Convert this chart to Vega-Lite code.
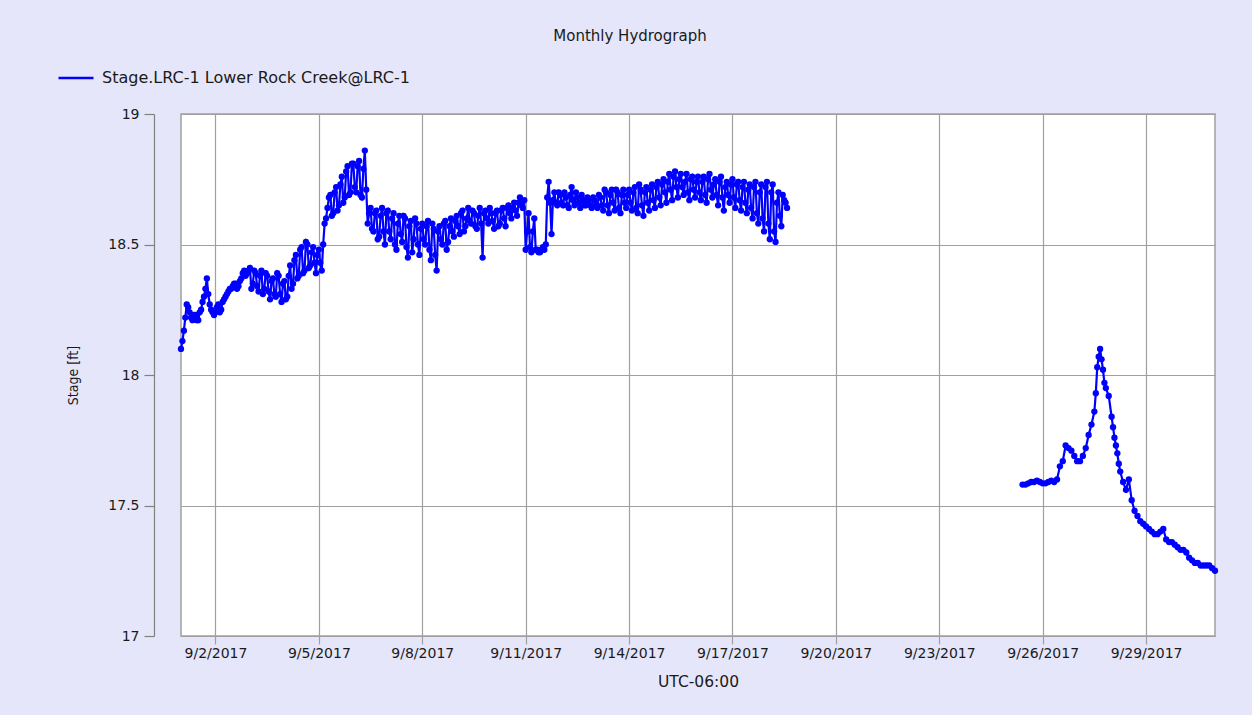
{
"$schema": "https://vega.github.io/schema/vega-lite/v6.json",
"width": 1034, "height": 522,
"autosize": {"type": "none"},
"padding": {"left": 181, "top": 114, "right": 37, "bottom": 79},
"background": "#E6E6FA",
"title": {"text": "Monthly Hydrograph", "anchor": "middle", "frame": "group", "dx": -68, "fontSize": 15, "font": "DejaVu Sans", "fontWeight": "normal", "color": "#1a1a1a", "offset": 15},
"config": {"view": {"stroke": "#a0a0a0", "strokeWidth": 1.5, "fill": "white"}, "font": "DejaVu Sans"},
"data": {"values": [
{"t":"2017-09-01T00:00","v":18.10,"s":1},{"t":"2017-09-01T02:00","v":18.17,"s":1},{"t":"2017-09-01T04:00","v":18.27,"s":1},{"t":"2017-09-01T06:00","v":18.24,"s":1},{"t":"2017-09-01T08:00","v":18.21,"s":1},{"t":"2017-09-01T10:00","v":18.23,"s":1},{"t":"2017-09-01T12:00","v":18.21,"s":1},{"t":"2017-09-01T14:00","v":18.25,"s":1},{"t":"2017-09-01T16:00","v":18.30,"s":1},{"t":"2017-09-01T18:00","v":18.37,"s":1},{"t":"2017-09-01T20:00","v":18.27,"s":1},{"t":"2017-09-01T22:00","v":18.24,"s":1},
{"t":"2017-09-02T00:00","v":18.24,"s":1},{"t":"2017-09-02T02:00","v":18.27,"s":1},{"t":"2017-09-02T04:00","v":18.25,"s":1},{"t":"2017-09-02T06:00","v":18.29,"s":1},{"t":"2017-09-02T08:00","v":18.31,"s":1},{"t":"2017-09-02T10:00","v":18.33,"s":1},{"t":"2017-09-02T12:00","v":18.34,"s":1},{"t":"2017-09-02T14:00","v":18.35,"s":1},{"t":"2017-09-02T16:00","v":18.34,"s":1},{"t":"2017-09-02T18:00","v":18.37,"s":1},{"t":"2017-09-02T20:00","v":18.40,"s":1},{"t":"2017-09-02T22:00","v":18.39,"s":1},
{"t":"2017-09-03T00:00","v":18.41,"s":1},{"t":"2017-09-03T02:00","v":18.35,"s":1},{"t":"2017-09-03T04:00","v":18.39,"s":1},{"t":"2017-09-03T06:00","v":18.32,"s":1},{"t":"2017-09-03T08:00","v":18.40,"s":1},{"t":"2017-09-03T10:00","v":18.33,"s":1},{"t":"2017-09-03T12:00","v":18.38,"s":1},{"t":"2017-09-03T14:00","v":18.29,"s":1},{"t":"2017-09-03T16:00","v":18.37,"s":1},{"t":"2017-09-03T18:00","v":18.30,"s":1},{"t":"2017-09-03T20:00","v":18.38,"s":1},{"t":"2017-09-03T22:00","v":18.28,"s":1},
{"t":"2017-09-04T00:00","v":18.36,"s":1},{"t":"2017-09-04T02:00","v":18.30,"s":1},{"t":"2017-09-04T04:00","v":18.42,"s":1},{"t":"2017-09-04T06:00","v":18.35,"s":1},{"t":"2017-09-04T08:00","v":18.46,"s":1},{"t":"2017-09-04T10:00","v":18.38,"s":1},{"t":"2017-09-04T12:00","v":18.49,"s":1},{"t":"2017-09-04T14:00","v":18.40,"s":1},{"t":"2017-09-04T16:00","v":18.50,"s":1},{"t":"2017-09-04T18:00","v":18.42,"s":1},{"t":"2017-09-04T20:00","v":18.49,"s":1},{"t":"2017-09-04T22:00","v":18.39,"s":1},
{"t":"2017-09-05T00:00","v":18.48,"s":1},{"t":"2017-09-05T02:00","v":18.40,"s":1},{"t":"2017-09-05T04:00","v":18.58,"s":1},{"t":"2017-09-05T06:00","v":18.64,"s":1},{"t":"2017-09-05T08:00","v":18.69,"s":1},{"t":"2017-09-05T10:00","v":18.62,"s":1},{"t":"2017-09-05T12:00","v":18.72,"s":1},{"t":"2017-09-05T14:00","v":18.65,"s":1},{"t":"2017-09-05T16:00","v":18.76,"s":1},{"t":"2017-09-05T18:00","v":18.68,"s":1},{"t":"2017-09-05T20:00","v":18.80,"s":1},{"t":"2017-09-05T22:00","v":18.70,"s":1},
{"t":"2017-09-06T00:00","v":18.81,"s":1},{"t":"2017-09-06T02:00","v":18.70,"s":1},{"t":"2017-09-06T04:00","v":18.82,"s":1},{"t":"2017-09-06T06:00","v":18.68,"s":1},{"t":"2017-09-06T08:00","v":18.86,"s":1},{"t":"2017-09-06T10:00","v":18.58,"s":1},{"t":"2017-09-06T12:00","v":18.64,"s":1},{"t":"2017-09-06T14:00","v":18.55,"s":1},{"t":"2017-09-06T16:00","v":18.63,"s":1},{"t":"2017-09-06T18:00","v":18.53,"s":1},{"t":"2017-09-06T20:00","v":18.64,"s":1},{"t":"2017-09-06T22:00","v":18.50,"s":1},
{"t":"2017-09-07T00:00","v":18.63,"s":1},{"t":"2017-09-07T02:00","v":18.52,"s":1},{"t":"2017-09-07T04:00","v":18.62,"s":1},{"t":"2017-09-07T06:00","v":18.48,"s":1},{"t":"2017-09-07T08:00","v":18.61,"s":1},{"t":"2017-09-07T10:00","v":18.51,"s":1},{"t":"2017-09-07T12:00","v":18.60,"s":1},{"t":"2017-09-07T14:00","v":18.45,"s":1},{"t":"2017-09-07T16:00","v":18.59,"s":1},{"t":"2017-09-07T18:00","v":18.52,"s":1},{"t":"2017-09-07T20:00","v":18.58,"s":1},{"t":"2017-09-07T22:00","v":18.46,"s":1},
{"t":"2017-09-08T00:00","v":18.58,"s":1},{"t":"2017-09-08T02:00","v":18.50,"s":1},{"t":"2017-09-08T04:00","v":18.59,"s":1},{"t":"2017-09-08T06:00","v":18.44,"s":1},{"t":"2017-09-08T08:00","v":18.56,"s":1},{"t":"2017-09-08T10:00","v":18.40,"s":1},{"t":"2017-09-08T12:00","v":18.57,"s":1},{"t":"2017-09-08T14:00","v":18.50,"s":1},{"t":"2017-09-08T16:00","v":18.59,"s":1},{"t":"2017-09-08T18:00","v":18.51,"s":1},{"t":"2017-09-08T20:00","v":18.60,"s":1},{"t":"2017-09-08T22:00","v":18.53,"s":1},
{"t":"2017-09-09T00:00","v":18.61,"s":1},{"t":"2017-09-09T02:00","v":18.54,"s":1},{"t":"2017-09-09T04:00","v":18.63,"s":1},{"t":"2017-09-09T06:00","v":18.57,"s":1},{"t":"2017-09-09T08:00","v":18.64,"s":1},{"t":"2017-09-09T10:00","v":18.58,"s":1},{"t":"2017-09-09T12:00","v":18.62,"s":1},{"t":"2017-09-09T14:00","v":18.56,"s":1},{"t":"2017-09-09T16:00","v":18.64,"s":1},{"t":"2017-09-09T18:00","v":18.45,"s":1},{"t":"2017-09-09T20:00","v":18.63,"s":1},{"t":"2017-09-09T22:00","v":18.58,"s":1},
{"t":"2017-09-10T00:00","v":18.62,"s":1},{"t":"2017-09-10T02:00","v":18.56,"s":1},{"t":"2017-09-10T04:00","v":18.63,"s":1},{"t":"2017-09-10T06:00","v":18.58,"s":1},{"t":"2017-09-10T08:00","v":18.64,"s":1},{"t":"2017-09-10T10:00","v":18.57,"s":1},{"t":"2017-09-10T12:00","v":18.65,"s":1},{"t":"2017-09-10T14:00","v":18.60,"s":1},{"t":"2017-09-10T16:00","v":18.66,"s":1},{"t":"2017-09-10T18:00","v":18.61,"s":1},{"t":"2017-09-10T20:00","v":18.68,"s":1},{"t":"2017-09-10T22:00","v":18.64,"s":1},
{"t":"2017-09-11T00:00","v":18.48,"s":1},{"t":"2017-09-11T02:00","v":18.62,"s":1},{"t":"2017-09-11T04:00","v":18.47,"s":1},{"t":"2017-09-11T06:00","v":18.60,"s":1},{"t":"2017-09-11T08:00","v":18.48,"s":1},{"t":"2017-09-11T10:00","v":18.47,"s":1},{"t":"2017-09-11T12:00","v":18.49,"s":1},{"t":"2017-09-11T14:00","v":18.50,"s":1},{"t":"2017-09-11T16:00","v":18.74,"s":1},{"t":"2017-09-11T18:00","v":18.54,"s":1},{"t":"2017-09-11T20:00","v":18.70,"s":1},{"t":"2017-09-11T22:00","v":18.65,"s":1},
{"t":"2017-09-12T00:00","v":18.69,"s":1},{"t":"2017-09-12T02:00","v":18.65,"s":1},{"t":"2017-09-12T04:00","v":18.68,"s":1},{"t":"2017-09-12T06:00","v":18.64,"s":1},{"t":"2017-09-12T08:00","v":18.72,"s":1},{"t":"2017-09-12T10:00","v":18.65,"s":1},{"t":"2017-09-12T12:00","v":18.68,"s":1},{"t":"2017-09-12T14:00","v":18.64,"s":1},{"t":"2017-09-12T16:00","v":18.67,"s":1},{"t":"2017-09-12T18:00","v":18.65,"s":1},{"t":"2017-09-12T20:00","v":18.67,"s":1},{"t":"2017-09-12T22:00","v":18.64,"s":1},
{"t":"2017-09-13T00:00","v":18.67,"s":1},{"t":"2017-09-13T02:00","v":18.64,"s":1},{"t":"2017-09-13T04:00","v":18.68,"s":1},{"t":"2017-09-13T06:00","v":18.63,"s":1},{"t":"2017-09-13T08:00","v":18.70,"s":1},{"t":"2017-09-13T10:00","v":18.62,"s":1},{"t":"2017-09-13T12:00","v":18.71,"s":1},{"t":"2017-09-13T14:00","v":18.63,"s":1},{"t":"2017-09-13T16:00","v":18.70,"s":1},{"t":"2017-09-13T18:00","v":18.62,"s":1},{"t":"2017-09-13T20:00","v":18.71,"s":1},{"t":"2017-09-13T22:00","v":18.64,"s":1},
{"t":"2017-09-14T00:00","v":18.71,"s":1},{"t":"2017-09-14T02:00","v":18.63,"s":1},{"t":"2017-09-14T04:00","v":18.72,"s":1},{"t":"2017-09-14T06:00","v":18.62,"s":1},{"t":"2017-09-14T08:00","v":18.71,"s":1},{"t":"2017-09-14T10:00","v":18.61,"s":1},{"t":"2017-09-14T12:00","v":18.72,"s":1},{"t":"2017-09-14T14:00","v":18.63,"s":1},{"t":"2017-09-14T16:00","v":18.73,"s":1},{"t":"2017-09-14T18:00","v":18.64,"s":1},{"t":"2017-09-14T20:00","v":18.74,"s":1},{"t":"2017-09-14T22:00","v":18.65,"s":1},
{"t":"2017-09-15T00:00","v":18.75,"s":1},{"t":"2017-09-15T02:00","v":18.66,"s":1},{"t":"2017-09-15T04:00","v":18.77,"s":1},{"t":"2017-09-15T06:00","v":18.67,"s":1},{"t":"2017-09-15T08:00","v":18.78,"s":1},{"t":"2017-09-15T10:00","v":18.68,"s":1},{"t":"2017-09-15T12:00","v":18.77,"s":1},{"t":"2017-09-15T14:00","v":18.69,"s":1},{"t":"2017-09-15T16:00","v":18.77,"s":1},{"t":"2017-09-15T18:00","v":18.67,"s":1},{"t":"2017-09-15T20:00","v":18.76,"s":1},{"t":"2017-09-15T22:00","v":18.68,"s":1},
{"t":"2017-09-16T00:00","v":18.76,"s":1},{"t":"2017-09-16T02:00","v":18.67,"s":1},{"t":"2017-09-16T04:00","v":18.76,"s":1},{"t":"2017-09-16T06:00","v":18.66,"s":1},{"t":"2017-09-16T08:00","v":18.77,"s":1},{"t":"2017-09-16T10:00","v":18.68,"s":1},{"t":"2017-09-16T12:00","v":18.75,"s":1},{"t":"2017-09-16T14:00","v":18.65,"s":1},{"t":"2017-09-16T16:00","v":18.76,"s":1},{"t":"2017-09-16T18:00","v":18.63,"s":1},{"t":"2017-09-16T20:00","v":18.74,"s":1},{"t":"2017-09-16T22:00","v":18.66,"s":1},
{"t":"2017-09-17T00:00","v":18.75,"s":1},{"t":"2017-09-17T02:00","v":18.64,"s":1},{"t":"2017-09-17T04:00","v":18.74,"s":1},{"t":"2017-09-17T06:00","v":18.63,"s":1},{"t":"2017-09-17T08:00","v":18.74,"s":1},{"t":"2017-09-17T10:00","v":18.62,"s":1},{"t":"2017-09-17T12:00","v":18.73,"s":1},{"t":"2017-09-17T14:00","v":18.60,"s":1},{"t":"2017-09-17T16:00","v":18.74,"s":1},{"t":"2017-09-17T18:00","v":18.58,"s":1},{"t":"2017-09-17T20:00","v":18.73,"s":1},{"t":"2017-09-17T22:00","v":18.55,"s":1},
{"t":"2017-09-18T00:00","v":18.74,"s":1},{"t":"2017-09-18T02:00","v":18.52,"s":1},{"t":"2017-09-18T04:00","v":18.73,"s":1},{"t":"2017-09-18T06:00","v":18.51,"s":1},{"t":"2017-09-18T08:00","v":18.70,"s":1},{"t":"2017-09-18T10:00","v":18.57,"s":1},{"t":"2017-09-18T12:00","v":18.67,"s":1},{"t":"2017-09-18T14:00","v":18.64,"s":1},
{"t":"2017-09-01T01:00","v":18.13,"s":1},{"t":"2017-09-01T03:00","v":18.22,"s":1},{"t":"2017-09-01T05:00","v":18.26,"s":1},{"t":"2017-09-01T07:00","v":18.22,"s":1},{"t":"2017-09-01T09:00","v":18.23,"s":1},{"t":"2017-09-01T11:00","v":18.21,"s":1},{"t":"2017-09-01T13:00","v":18.24,"s":1},{"t":"2017-09-01T15:00","v":18.28,"s":1},{"t":"2017-09-01T17:00","v":18.33,"s":1},{"t":"2017-09-01T19:00","v":18.31,"s":1},{"t":"2017-09-01T21:00","v":18.25,"s":1},{"t":"2017-09-01T23:00","v":18.23,"s":1},
{"t":"2017-09-02T01:00","v":18.26,"s":1},{"t":"2017-09-02T03:00","v":18.24,"s":1},{"t":"2017-09-02T05:00","v":18.28,"s":1},{"t":"2017-09-02T07:00","v":18.30,"s":1},{"t":"2017-09-02T09:00","v":18.32,"s":1},{"t":"2017-09-02T11:00","v":18.33,"s":1},{"t":"2017-09-02T13:00","v":18.35,"s":1},{"t":"2017-09-02T15:00","v":18.33,"s":1},{"t":"2017-09-02T17:00","v":18.36,"s":1},{"t":"2017-09-02T19:00","v":18.39,"s":1},{"t":"2017-09-02T21:00","v":18.38,"s":1},{"t":"2017-09-02T23:00","v":18.40,"s":1},
{"t":"2017-09-03T01:00","v":18.33,"s":1},{"t":"2017-09-03T03:00","v":18.40,"s":1},{"t":"2017-09-03T05:00","v":18.34,"s":1},{"t":"2017-09-03T07:00","v":18.38,"s":1},{"t":"2017-09-03T09:00","v":18.31,"s":1},{"t":"2017-09-03T11:00","v":18.39,"s":1},{"t":"2017-09-03T13:00","v":18.32,"s":1},{"t":"2017-09-03T15:00","v":18.36,"s":1},{"t":"2017-09-03T17:00","v":18.31,"s":1},{"t":"2017-09-03T19:00","v":18.39,"s":1},{"t":"2017-09-03T21:00","v":18.31,"s":1},{"t":"2017-09-03T23:00","v":18.35,"s":1},
{"t":"2017-09-04T01:00","v":18.29,"s":1},{"t":"2017-09-04T03:00","v":18.38,"s":1},{"t":"2017-09-04T05:00","v":18.33,"s":1},{"t":"2017-09-04T07:00","v":18.44,"s":1},{"t":"2017-09-04T09:00","v":18.37,"s":1},{"t":"2017-09-04T11:00","v":18.48,"s":1},{"t":"2017-09-04T13:00","v":18.39,"s":1},{"t":"2017-09-04T15:00","v":18.51,"s":1},{"t":"2017-09-04T17:00","v":18.41,"s":1},{"t":"2017-09-04T19:00","v":18.47,"s":1},{"t":"2017-09-04T21:00","v":18.43,"s":1},{"t":"2017-09-04T23:00","v":18.46,"s":1},
{"t":"2017-09-05T01:00","v":18.43,"s":1},{"t":"2017-09-05T03:00","v":18.50,"s":1},{"t":"2017-09-05T05:00","v":18.60,"s":1},{"t":"2017-09-05T07:00","v":18.68,"s":1},{"t":"2017-09-05T09:00","v":18.61,"s":1},{"t":"2017-09-05T11:00","v":18.70,"s":1},{"t":"2017-09-05T13:00","v":18.63,"s":1},{"t":"2017-09-05T15:00","v":18.73,"s":1},{"t":"2017-09-05T17:00","v":18.66,"s":1},{"t":"2017-09-05T19:00","v":18.78,"s":1},{"t":"2017-09-05T21:00","v":18.69,"s":1},{"t":"2017-09-05T23:00","v":18.81,"s":1},
{"t":"2017-09-06T01:00","v":18.72,"s":1},{"t":"2017-09-06T03:00","v":18.80,"s":1},{"t":"2017-09-06T05:00","v":18.69,"s":1},{"t":"2017-09-06T07:00","v":18.79,"s":1},{"t":"2017-09-06T09:00","v":18.71,"s":1},{"t":"2017-09-06T11:00","v":18.62,"s":1},{"t":"2017-09-06T13:00","v":18.56,"s":1},{"t":"2017-09-06T15:00","v":18.62,"s":1},{"t":"2017-09-06T17:00","v":18.52,"s":1},{"t":"2017-09-06T19:00","v":18.61,"s":1},{"t":"2017-09-06T21:00","v":18.55,"s":1},{"t":"2017-09-06T23:00","v":18.62,"s":1},
{"t":"2017-09-07T01:00","v":18.55,"s":1},{"t":"2017-09-07T03:00","v":18.60,"s":1},{"t":"2017-09-07T05:00","v":18.50,"s":1},{"t":"2017-09-07T07:00","v":18.58,"s":1},{"t":"2017-09-07T09:00","v":18.54,"s":1},{"t":"2017-09-07T11:00","v":18.61,"s":1},{"t":"2017-09-07T13:00","v":18.49,"s":1},{"t":"2017-09-07T15:00","v":18.57,"s":1},{"t":"2017-09-07T17:00","v":18.47,"s":1},{"t":"2017-09-07T19:00","v":18.60,"s":1},{"t":"2017-09-07T21:00","v":18.50,"s":1},{"t":"2017-09-07T23:00","v":18.56,"s":1},
{"t":"2017-09-08T01:00","v":18.52,"s":1},{"t":"2017-09-08T03:00","v":18.57,"s":1},{"t":"2017-09-08T05:00","v":18.48,"s":1},{"t":"2017-09-08T07:00","v":18.58,"s":1},{"t":"2017-09-08T09:00","v":18.46,"s":1},{"t":"2017-09-08T11:00","v":18.55,"s":1},{"t":"2017-09-08T13:00","v":18.52,"s":1},{"t":"2017-09-08T15:00","v":18.58,"s":1},{"t":"2017-09-08T17:00","v":18.48,"s":1},{"t":"2017-09-08T19:00","v":18.57,"s":1},{"t":"2017-09-08T21:00","v":18.55,"s":1},{"t":"2017-09-08T23:00","v":18.59,"s":1},
{"t":"2017-09-09T01:00","v":18.57,"s":1},{"t":"2017-09-09T03:00","v":18.62,"s":1},{"t":"2017-09-09T05:00","v":18.55,"s":1},{"t":"2017-09-09T07:00","v":18.60,"s":1},{"t":"2017-09-09T09:00","v":18.59,"s":1},{"t":"2017-09-09T11:00","v":18.63,"s":1},{"t":"2017-09-09T13:00","v":18.57,"s":1},{"t":"2017-09-09T15:00","v":18.61,"s":1},{"t":"2017-09-09T17:00","v":18.58,"s":1},{"t":"2017-09-09T19:00","v":18.62,"s":1},{"t":"2017-09-09T21:00","v":18.60,"s":1},{"t":"2017-09-09T23:00","v":18.64,"s":1},
{"t":"2017-09-10T01:00","v":18.59,"s":1},{"t":"2017-09-10T03:00","v":18.62,"s":1},{"t":"2017-09-10T05:00","v":18.57,"s":1},{"t":"2017-09-10T07:00","v":18.63,"s":1},{"t":"2017-09-10T09:00","v":18.60,"s":1},{"t":"2017-09-10T11:00","v":18.64,"s":1},{"t":"2017-09-10T13:00","v":18.62,"s":1},{"t":"2017-09-10T15:00","v":18.64,"s":1},{"t":"2017-09-10T17:00","v":18.63,"s":1},{"t":"2017-09-10T19:00","v":18.66,"s":1},{"t":"2017-09-10T21:00","v":18.65,"s":1},{"t":"2017-09-10T23:00","v":18.67,"s":1},
{"t":"2017-09-11T01:00","v":18.55,"s":1},{"t":"2017-09-11T03:00","v":18.49,"s":1},{"t":"2017-09-11T05:00","v":18.55,"s":1},{"t":"2017-09-11T07:00","v":18.48,"s":1},{"t":"2017-09-11T09:00","v":18.47,"s":1},{"t":"2017-09-11T11:00","v":18.48,"s":1},{"t":"2017-09-11T13:00","v":18.48,"s":1},{"t":"2017-09-11T15:00","v":18.68,"s":1},{"t":"2017-09-11T17:00","v":18.66,"s":1},{"t":"2017-09-11T19:00","v":18.67,"s":1},{"t":"2017-09-11T21:00","v":18.66,"s":1},{"t":"2017-09-11T23:00","v":18.70,"s":1},
{"t":"2017-09-12T01:00","v":18.66,"s":1},{"t":"2017-09-12T03:00","v":18.70,"s":1},{"t":"2017-09-12T05:00","v":18.65,"s":1},{"t":"2017-09-12T07:00","v":18.69,"s":1},{"t":"2017-09-12T09:00","v":18.67,"s":1},{"t":"2017-09-12T11:00","v":18.70,"s":1},{"t":"2017-09-12T13:00","v":18.66,"s":1},{"t":"2017-09-12T15:00","v":18.69,"s":1},{"t":"2017-09-12T17:00","v":18.65,"s":1},{"t":"2017-09-12T19:00","v":18.68,"s":1},{"t":"2017-09-12T21:00","v":18.65,"s":1},{"t":"2017-09-12T23:00","v":18.68,"s":1},
{"t":"2017-09-13T01:00","v":18.65,"s":1},{"t":"2017-09-13T03:00","v":18.69,"s":1},{"t":"2017-09-13T05:00","v":18.65,"s":1},{"t":"2017-09-13T07:00","v":18.71,"s":1},{"t":"2017-09-13T09:00","v":18.65,"s":1},{"t":"2017-09-13T11:00","v":18.69,"s":1},{"t":"2017-09-13T13:00","v":18.66,"s":1},{"t":"2017-09-13T15:00","v":18.71,"s":1},{"t":"2017-09-13T17:00","v":18.64,"s":1},{"t":"2017-09-13T19:00","v":18.69,"s":1},{"t":"2017-09-13T21:00","v":18.66,"s":1},{"t":"2017-09-13T23:00","v":18.69,"s":1},
{"t":"2017-09-14T01:00","v":18.66,"s":1},{"t":"2017-09-14T03:00","v":18.70,"s":1},{"t":"2017-09-14T05:00","v":18.64,"s":1},{"t":"2017-09-14T07:00","v":18.73,"s":1},{"t":"2017-09-14T09:00","v":18.65,"s":1},{"t":"2017-09-14T11:00","v":18.70,"s":1},{"t":"2017-09-14T13:00","v":18.66,"s":1},{"t":"2017-09-14T15:00","v":18.71,"s":1},{"t":"2017-09-14T17:00","v":18.67,"s":1},{"t":"2017-09-14T19:00","v":18.72,"s":1},{"t":"2017-09-14T21:00","v":18.68,"s":1},{"t":"2017-09-14T23:00","v":18.73,"s":1},
{"t":"2017-09-15T01:00","v":18.70,"s":1},{"t":"2017-09-15T03:00","v":18.74,"s":1},{"t":"2017-09-15T05:00","v":18.71,"s":1},{"t":"2017-09-15T07:00","v":18.76,"s":1},{"t":"2017-09-15T09:00","v":18.72,"s":1},{"t":"2017-09-15T11:00","v":18.75,"s":1},{"t":"2017-09-15T13:00","v":18.72,"s":1},{"t":"2017-09-15T15:00","v":18.74,"s":1},{"t":"2017-09-15T17:00","v":18.70,"s":1},{"t":"2017-09-15T19:00","v":18.75,"s":1},{"t":"2017-09-15T21:00","v":18.71,"s":1},{"t":"2017-09-15T23:00","v":18.74,"s":1},
{"t":"2017-09-16T01:00","v":18.70,"s":1},{"t":"2017-09-16T03:00","v":18.74,"s":1},{"t":"2017-09-16T05:00","v":18.69,"s":1},{"t":"2017-09-16T07:00","v":18.75,"s":1},{"t":"2017-09-16T09:00","v":18.71,"s":1},{"t":"2017-09-16T11:00","v":18.73,"s":1},{"t":"2017-09-16T13:00","v":18.69,"s":1},{"t":"2017-09-16T15:00","v":18.74,"s":1},{"t":"2017-09-16T17:00","v":18.68,"s":1},{"t":"2017-09-16T19:00","v":18.72,"s":1},{"t":"2017-09-16T21:00","v":18.69,"s":1},{"t":"2017-09-16T23:00","v":18.73,"s":1},
{"t":"2017-09-17T01:00","v":18.68,"s":1},{"t":"2017-09-17T03:00","v":18.73,"s":1},{"t":"2017-09-17T05:00","v":18.67,"s":1},{"t":"2017-09-17T07:00","v":18.72,"s":1},{"t":"2017-09-17T09:00","v":18.66,"s":1},{"t":"2017-09-17T11:00","v":18.71,"s":1},{"t":"2017-09-17T13:00","v":18.64,"s":1},{"t":"2017-09-17T15:00","v":18.72,"s":1},{"t":"2017-09-17T17:00","v":18.62,"s":1},{"t":"2017-09-17T19:00","v":18.70,"s":1},{"t":"2017-09-17T21:00","v":18.60,"s":1},{"t":"2017-09-17T23:00","v":18.72,"s":1},
{"t":"2017-09-18T01:00","v":18.58,"s":1},{"t":"2017-09-18T03:00","v":18.70,"s":1},{"t":"2017-09-18T05:00","v":18.55,"s":1},{"t":"2017-09-18T07:00","v":18.66,"s":1},{"t":"2017-09-18T09:00","v":18.61,"s":1},{"t":"2017-09-18T11:00","v":18.69,"s":1},{"t":"2017-09-18T13:00","v":18.66,"s":1},
{"t":"2017-09-25T10:00","v":17.58,"s":2},{"t":"2017-09-25T12:00","v":17.58,"s":2},{"t":"2017-09-25T14:00","v":17.585,"s":2},{"t":"2017-09-25T16:00","v":17.59,"s":2},{"t":"2017-09-25T18:00","v":17.59,"s":2},{"t":"2017-09-25T20:00","v":17.595,"s":2},{"t":"2017-09-25T22:00","v":17.59,"s":2},
{"t":"2017-09-26T00:00","v":17.585,"s":2},{"t":"2017-09-26T02:00","v":17.585,"s":2},{"t":"2017-09-26T04:00","v":17.59,"s":2},{"t":"2017-09-26T06:00","v":17.595,"s":2},{"t":"2017-09-26T08:00","v":17.59,"s":2},{"t":"2017-09-26T10:00","v":17.60,"s":2},{"t":"2017-09-26T12:00","v":17.65,"s":2},{"t":"2017-09-26T14:00","v":17.67,"s":2},{"t":"2017-09-26T16:00","v":17.73,"s":2},{"t":"2017-09-26T18:00","v":17.72,"s":2},{"t":"2017-09-26T20:00","v":17.71,"s":2},{"t":"2017-09-26T22:00","v":17.69,"s":2},
{"t":"2017-09-27T00:00","v":17.67,"s":2},{"t":"2017-09-27T02:00","v":17.67,"s":2},{"t":"2017-09-27T04:00","v":17.69,"s":2},{"t":"2017-09-27T06:00","v":17.72,"s":2},{"t":"2017-09-27T08:00","v":17.77,"s":2},{"t":"2017-09-27T10:00","v":17.81,"s":2},{"t":"2017-09-27T12:00","v":17.86,"s":2},{"t":"2017-09-27T13:00","v":17.93,"s":2},{"t":"2017-09-27T14:00","v":18.03,"s":2},{"t":"2017-09-27T15:00","v":18.07,"s":2},{"t":"2017-09-27T16:00","v":18.10,"s":2},{"t":"2017-09-27T17:00","v":18.06,"s":2},{"t":"2017-09-27T18:00","v":18.02,"s":2},{"t":"2017-09-27T19:00","v":17.97,"s":2},{"t":"2017-09-27T20:00","v":17.95,"s":2},{"t":"2017-09-27T22:00","v":17.92,"s":2},
{"t":"2017-09-28T00:00","v":17.84,"s":2},{"t":"2017-09-28T01:00","v":17.80,"s":2},{"t":"2017-09-28T02:00","v":17.76,"s":2},{"t":"2017-09-28T03:00","v":17.73,"s":2},{"t":"2017-09-28T04:00","v":17.70,"s":2},{"t":"2017-09-28T05:00","v":17.66,"s":2},{"t":"2017-09-28T06:00","v":17.63,"s":2},{"t":"2017-09-28T08:00","v":17.59,"s":2},{"t":"2017-09-28T10:00","v":17.56,"s":2},{"t":"2017-09-28T12:00","v":17.60,"s":2},{"t":"2017-09-28T14:00","v":17.52,"s":2},{"t":"2017-09-28T16:00","v":17.48,"s":2},{"t":"2017-09-28T18:00","v":17.46,"s":2},{"t":"2017-09-28T20:00","v":17.44,"s":2},{"t":"2017-09-28T22:00","v":17.43,"s":2},
{"t":"2017-09-29T00:00","v":17.42,"s":2},{"t":"2017-09-29T02:00","v":17.41,"s":2},{"t":"2017-09-29T04:00","v":17.40,"s":2},{"t":"2017-09-29T06:00","v":17.39,"s":2},{"t":"2017-09-29T08:00","v":17.39,"s":2},{"t":"2017-09-29T10:00","v":17.40,"s":2},{"t":"2017-09-29T12:00","v":17.41,"s":2},{"t":"2017-09-29T14:00","v":17.37,"s":2},{"t":"2017-09-29T16:00","v":17.36,"s":2},{"t":"2017-09-29T18:00","v":17.36,"s":2},{"t":"2017-09-29T20:00","v":17.35,"s":2},{"t":"2017-09-29T22:00","v":17.34,"s":2},
{"t":"2017-09-30T00:00","v":17.33,"s":2},{"t":"2017-09-30T02:00","v":17.33,"s":2},{"t":"2017-09-30T04:00","v":17.32,"s":2},{"t":"2017-09-30T06:00","v":17.30,"s":2},{"t":"2017-09-30T08:00","v":17.29,"s":2},{"t":"2017-09-30T10:00","v":17.28,"s":2},{"t":"2017-09-30T12:00","v":17.28,"s":2},{"t":"2017-09-30T14:00","v":17.27,"s":2},{"t":"2017-09-30T16:00","v":17.27,"s":2},{"t":"2017-09-30T18:00","v":17.27,"s":2},{"t":"2017-09-30T20:00","v":17.27,"s":2},{"t":"2017-09-30T22:00","v":17.26,"s":2},
{"t":"2017-10-01T00:00","v":17.25,"s":2}
]},
"encoding": {
  "x": {"field": "t", "type": "temporal",
    "scale": {"domain": [{"year": 2017, "month": 9, "date": 1}, {"year": 2017, "month": 10, "date": 1}], "nice": false},
    "axis": {"values": [{"year": 2017, "month": 9, "date": 2}, {"year": 2017, "month": 9, "date": 5}, {"year": 2017, "month": 9, "date": 8}, {"year": 2017, "month": 9, "date": 11}, {"year": 2017, "month": 9, "date": 14}, {"year": 2017, "month": 9, "date": 17}, {"year": 2017, "month": 9, "date": 20}, {"year": 2017, "month": 9, "date": 23}, {"year": 2017, "month": 9, "date": 26}, {"year": 2017, "month": 9, "date": 29}],
      "format": "%-m/%-d/%Y", "grid": true, "gridColor": "#a0a0a0", "gridOpacity": 1, "gridWidth": 1.2,
      "tickColor": "#a0a0a0", "tickSize": 8, "tickWidth": 1.2, "domain": false,
      "labelFont": "DejaVu Sans", "labelFontSize": 14, "labelColor": "#1a1a1a", "labelPadding": 2, "labelFlush": false, "labelOverlap": false,
      "title": "UTC-06:00", "titleFont": "DejaVu Sans", "titleFontSize": 15.5, "titleFontWeight": "normal", "titleColor": "#1a1a1a", "titlePadding": 14}},
  "y": {"field": "v", "type": "quantitative",
    "scale": {"domain": [17, 19], "nice": false, "zero": false},
    "axis": {"values": [17, 17.5, 18, 18.5, 19], "format": "~g", "offset": 27, "grid": true, "gridColor": "#a0a0a0", "gridOpacity": 1, "gridWidth": 1.2,
      "domainColor": "#808080", "domainWidth": 1.2, "tickColor": "#808080", "tickSize": 10, "tickWidth": 1.2,
      "labelFont": "DejaVu Sans", "labelFontSize": 14, "labelColor": "#1a1a1a", "labelPadding": 5,
      "title": "Stage [ft]", "titleFont": "Liberation Sans Narrow, DejaVu Sans Condensed, sans-serif", "titleFontSize": 14, "titleFontWeight": "normal", "titleColor": "#1a1a1a", "titlePadding": 27}}
},
"layer": [
  {"mark": {"type": "line", "strokeWidth": 2.2},
   "encoding": {
     "detail": {"field": "s"},
     "color": {"datum": "Stage.LRC-1 Lower Rock Creek@LRC-1", "type": "nominal", "scale": {"range": ["#0000ff"]},
       "legend": {"orient": "none", "legendX": -124, "legendY": -55, "title": null, "symbolType": "stroke", "symbolSize": 1225, "symbolStrokeWidth": 2.5, "labelFont": "DejaVu Sans", "labelFontSize": 16, "labelColor": "#1a1a1a", "labelOffset": 7, "labelLimit": 500}}}},
  {"mark": {"type": "point", "filled": true, "size": 40, "color": "#0000ff", "opacity": 1}}
]
}
